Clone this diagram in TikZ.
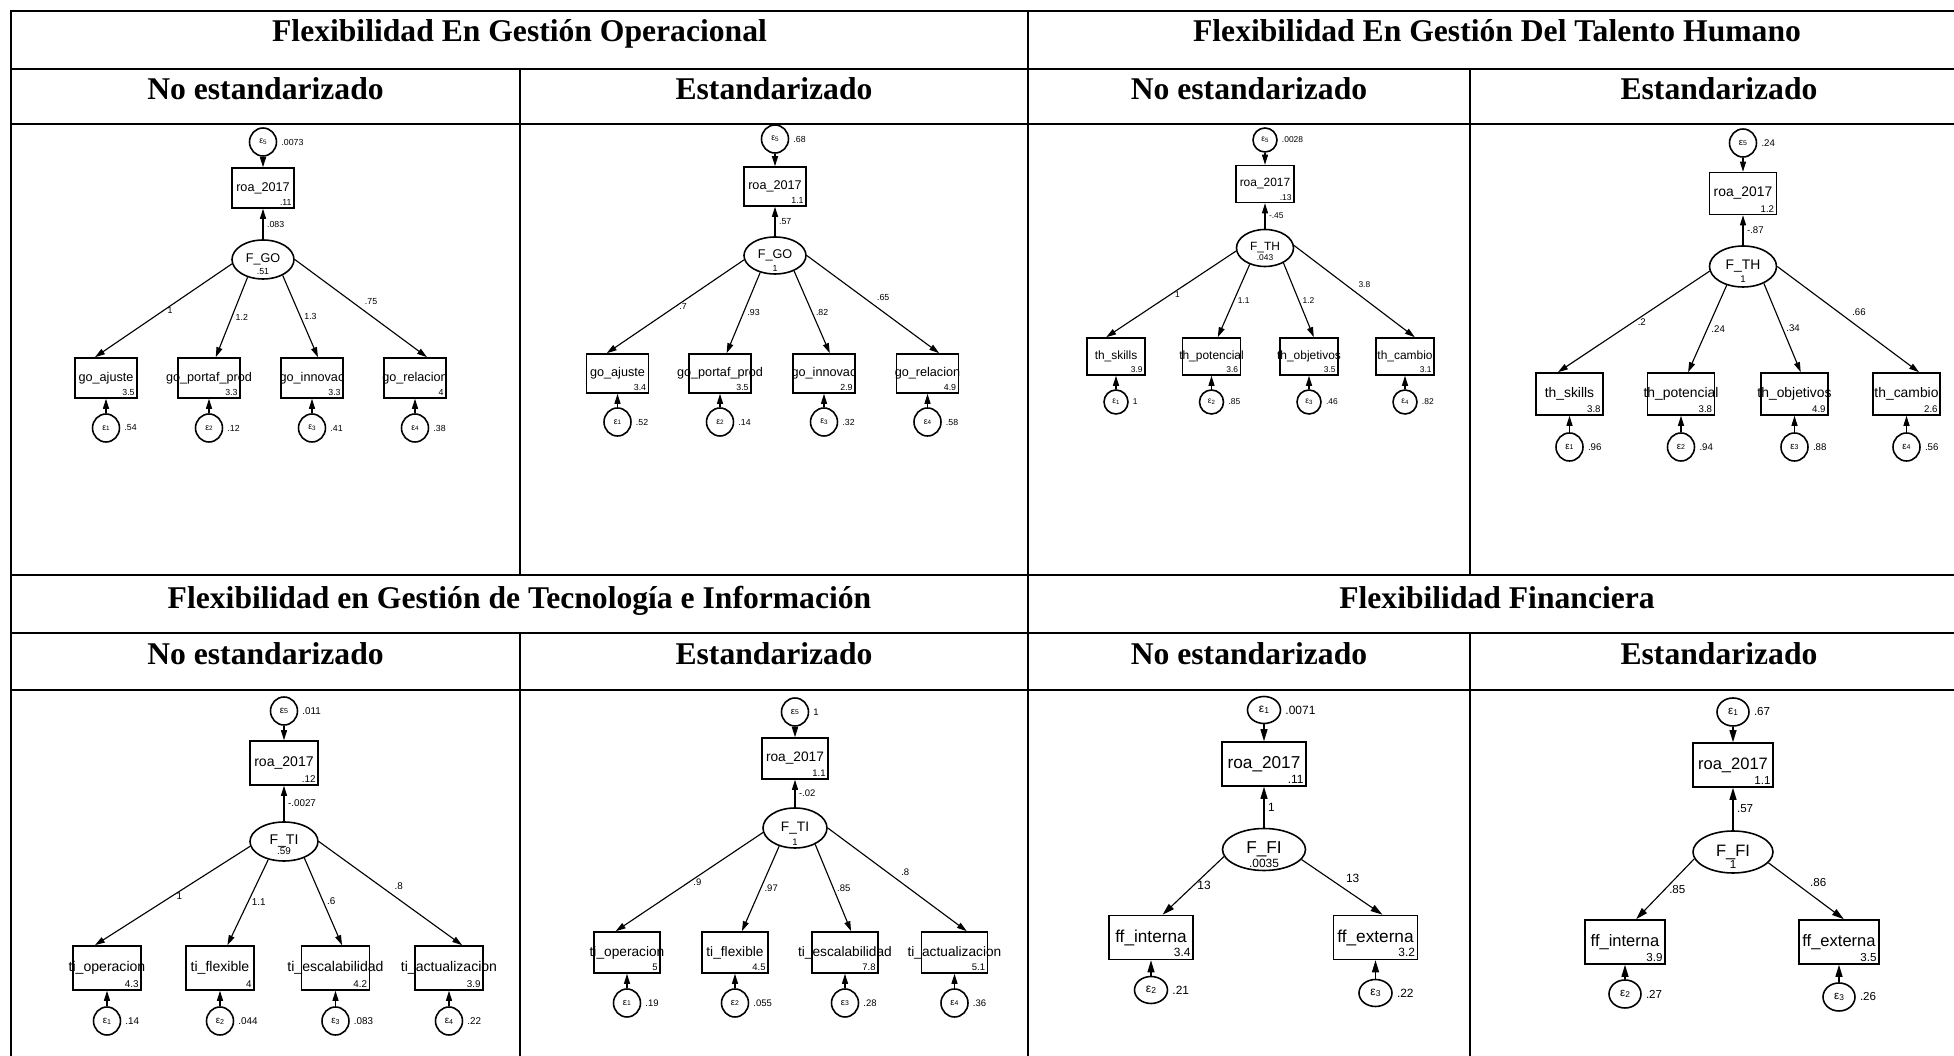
\documentclass[tikz,border=0pt]{standalone}
\usepackage{fontspec}
\setmainfont{Liberation Serif}
\newfontfamily\diag{Liberation Sans}
\usetikzlibrary{shapes.geometric,arrows.meta}
\newcommand{\epsi}[1]{ε\raisebox{-0.15ex}{\scalebox{0.72}{#1}}}

\begin{document}
\begin{tikzpicture}[x=0.1mm,y=-0.1mm,
    nm/.style={font=\diag\fontsize{3.6}{4}\selectfont, inner sep=0pt},
    num/.style={font=\diag\fontsize{2.5}{3}\selectfont, inner sep=0.35mm},
    val/.style={num, anchor=south east, inner sep=0.25mm},
    obs/.style={draw, rectangle, line width=0.45pt, inner sep=0pt},
    lat/.style={draw, ellipse, line width=0.45pt, inner sep=0pt},
    err/.style={num, draw, ellipse, line width=0.45pt, inner sep=0pt, minimum width=2.7mm, minimum height=2.8mm},
    arr/.style={line width=0.32pt, -{Triangle[length=1mm,width=0.6mm]}},
    head/.style={font=\fontsize{9}{10}\selectfont\bfseries, anchor=base},
    rule/.style={line width=0.6pt},
    thinrule/.style={line width=0.3pt}]
    \useasboundingbox (0,0) rectangle (1954,1056);

    % Table rules
    \draw[rule] (11,1056) -- (11,11) -- (1954,11);
    \draw[rule] (11,69) -- (1954,69);
    \draw[rule] (11,575) -- (1954,575);
    \draw[rule] (11,633) -- (1954,633);
    \draw[rule] (1028,11) -- (1028,1056);
    \draw[rule] (520,69) -- (520,575) (520,633) -- (520,1056);
    \draw[rule] (1470,69) -- (1470,575) (1470,633) -- (1470,1056);
    % rules under the subheaders, thin where the figures lie on them
    \draw[rule] (11,124) -- (62,124) (458,124) -- (573,124) (973,124) -- (1080,124) (1457,124) -- (1523,124);
    \draw[thinrule] (62,124) -- (458,124) (573,124) -- (973,124) (1080,124) -- (1457,124) (1523,124) -- (1954,124);
    \draw[rule] (11,690) -- (62,690) (507,690) -- (573,690) (1013,690) -- (1100,690) (1437,690) -- (1573,690) (1900,690) -- (1954,690);
    \draw[thinrule] (62,690) -- (507,690) (573,690) -- (1013,690) (1100,690) -- (1437,690) (1573,690) -- (1900,690);

    % Headers
    \node[head] (tgo) at (519.5,42) {Flexibilidad En Gestión Operacional};
    \node[head] (tth) at (1497,42) {Flexibilidad En Gestión Del Talento Humano};
    \node[head] (tti) at (519.5,609) {Flexibilidad en Gestión de Tecnología e Información};
    \node[head] (tff) at (1497,609) {Flexibilidad Financiera};
    \node[head] (sgoN) at (265.5,100) {No estandarizado};
    \node[head] (sgoE) at (774,100) {Estandarizado};
    \node[head] (sthN) at (1249,100) {No estandarizado};
    \node[head] (sthE) at (1719,100) {Estandarizado};
    \node[head] (stiN) at (265.5,665) {No estandarizado};
    \node[head] (stiE) at (774,665) {Estandarizado};
    \node[head] (sffN) at (1249,665) {No estandarizado};
    \node[head] (sffE) at (1719,665) {Estandarizado};

    % F_GO, no estandarizado
    \begin{scope}[obs/.append style={minimum width=6.2mm, minimum height=4mm},
        lat/.append style={minimum width=6.2mm, minimum height=3.9mm}]
        \node[err, label={[num]east:.0073}] (goNe5) at (263,142) {\epsi{5}};
        \node[obs, label={[nm]center:roa\_2017}, label={[val]south east:.11}] (goNroa) at (263,188) {};
        \node[lat, label={[nm]center:F\_GO}, label={[num,yshift=-1.25mm]center:.51}] (goNlat) at (263,259.5) {};
        \node[obs, label={[nm]center:go\_ajuste}, label={[val]south east:3.5}] (goN1) at (106,378) {};
        \node[obs, label={[nm]center:go\_portaf\_prod}, label={[val]south east:3.3}] (goN2) at (209,378) {};
        \node[obs, label={[nm]center:go\_innovac}, label={[val]south east:3.3}] (goN3) at (312,378) {};
        \node[obs, label={[nm]center:go\_relacion}, label={[val]south east:4}] (goN4) at (415,378) {};
        \node[err, label={[num]east:.54}] (goNe1) at (106,428) {\epsi{1}};
        \node[err, label={[num]east:.12}] (goNe2) at (209,428) {\epsi{2}};
        \node[err, label={[num]east:.41}] (goNe3) at (312,428) {\epsi{3}};
        \node[err, label={[num]east:.38}] (goNe4) at (415,428) {\epsi{4}};
        \draw[arr] (goNe5) -- (goNroa);
        \draw[arr] (goNlat) -- (goNroa) node[num, midway, right] {.083};
        \draw[arr] (goNlat.188) -- (goN1.118) node[num, midway, right] {1};
        \draw[arr] (goNlat.229) -- (goN2.72) node[num, midway, right] {1.2};
        \draw[arr] (goNlat.321) -- (goN3.74) node[num, midway, right] {1.3};
        \draw[arr] (goNlat.0) -- (goN4.60) node[num, midway, above right] {.75};
        \draw[arr] (goNe1) -- (goN1);
        \draw[arr] (goNe2) -- (goN2);
        \draw[arr] (goNe3) -- (goN3);
        \draw[arr] (goNe4) -- (goN4);
    \end{scope}

    % F_GO, estandarizado
    \begin{scope}[obs/.append style={minimum width=6.2mm, minimum height=3.9mm},
        lat/.append style={minimum width=6.2mm, minimum height=3.7mm}]
        \node[err, label={[num]east:.68}] (goEe5) at (775,139) {\epsi{5}};
        \node[obs, label={[nm]center:roa\_2017}, label={[val]south east:1.1}] (goEroa) at (775,186.5) {};
        \node[lat, label={[nm]center:F\_GO}, label={[num,yshift=-1.25mm]center:1}] (goElat) at (775,255.5) {};
        \node[obs, label={[nm]center:go\_ajuste}, label={[val]south east:3.4}] (goE1) at (617.5,373.5) {};
        \node[obs, label={[nm]center:go\_portaf\_prod}, label={[val]south east:3.5}] (goE2) at (720,373.5) {};
        \node[obs, label={[nm]center:go\_innovac}, label={[val]south east:2.9}] (goE3) at (824,373.5) {};
        \node[obs, label={[nm]center:go\_relacion}, label={[val]south east:4.9}] (goE4) at (927.5,373.5) {};
        \node[err, label={[num]east:.52}] (goEe1) at (617.5,422) {\epsi{1}};
        \node[err, label={[num]east:.14}] (goEe2) at (720,422) {\epsi{2}};
        \node[err, label={[num]east:.32}] (goEe3) at (824,422) {\epsi{3}};
        \node[err, label={[num]east:.58}] (goEe4) at (927.5,422) {\epsi{4}};
        \draw[arr] (goEe5) -- (goEroa);
        \draw[arr] (goElat) -- (goEroa) node[num, midway, right] {.57};
        \draw[arr] (goElat.188) -- (goE1.118) node[num, midway, right] {.7};
        \draw[arr] (goElat.229) -- (goE2.72) node[num, midway, right] {.93};
        \draw[arr] (goElat.321) -- (goE3.74) node[num, midway, right] {.82};
        \draw[arr] (goElat.0) -- (goE4.60) node[num, midway, above right] {.65};
        \draw[arr] (goEe1) -- (goE1);
        \draw[arr] (goEe2) -- (goE2);
        \draw[arr] (goEe3) -- (goE3);
        \draw[arr] (goEe4) -- (goE4);
    \end{scope}

    % F_TH, no estandarizado
    \begin{scope}[nm/.append style={font=\diag\fontsize{3.4}{4}\selectfont},
        num/.append style={font=\diag\fontsize{2.4}{3}\selectfont},
        obs/.append style={minimum width=5.8mm, minimum height=3.7mm},
        lat/.append style={minimum width=5.7mm, minimum height=3.7mm},
        err/.append style={minimum width=2.4mm, minimum height=2.4mm}]
        \node[err, label={[num]east:.0028}] (thNe5) at (1265,140) {\epsi{5}};
        \node[obs, label={[nm]center:roa\_2017}, label={[val]south east:.13}] (thNroa) at (1265,184) {};
        \node[lat, label={[nm]center:F\_TH}, label={[num,yshift=-1mm]center:.043}] (thNlat) at (1265,248) {};
        \node[obs, label={[nm]center:th\_skills}, label={[val]south east:3.9}] (thN1) at (1116,356.5) {};
        \node[obs, label={[nm]center:th\_potencial}, label={[val]south east:3.6}] (thN2) at (1211.5,356.5) {};
        \node[obs, label={[nm]center:th\_objetivos}, label={[val]south east:3.5}] (thN3) at (1309,356.5) {};
        \node[obs, label={[nm]center:th\_cambio}, label={[val]south east:3.1}] (thN4) at (1405,356.5) {};
        \node[err, label={[num]east:1}] (thNe1) at (1116,402) {\epsi{1}};
        \node[err, label={[num]east:.85}] (thNe2) at (1211.5,402) {\epsi{2}};
        \node[err, label={[num]east:.46}] (thNe3) at (1309,402) {\epsi{3}};
        \node[err, label={[num]east:.82}] (thNe4) at (1405,402) {\epsi{4}};
        \draw[arr] (thNe5) -- (thNroa);
        \draw[arr] (thNlat) -- (thNroa) node[num, midway, right] {-.45};
        \draw[arr] (thNlat.186) -- (thN1.117) node[num, midway, right] {1};
        \draw[arr] (thNlat.227) -- (thN2.72) node[num, midway, right] {1.1};
        \draw[arr] (thNlat.321) -- (thN3.76) node[num, midway, right] {1.2};
        \draw[arr] (thNlat.5) -- (thN4.63) node[num, midway, above right] {3.8};
        \draw[arr] (thNe1) -- (thN1);
        \draw[arr] (thNe2) -- (thN2);
        \draw[arr] (thNe3) -- (thN3);
        \draw[arr] (thNe4) -- (thN4);
    \end{scope}

    % F_TH, estandarizado
    \begin{scope}[nm/.append style={font=\diag\fontsize{3.95}{4.5}\selectfont},
        num/.append style={font=\diag\fontsize{2.75}{3.2}\selectfont},
        obs/.append style={minimum width=6.7mm, minimum height=4.2mm},
        lat/.append style={minimum width=6.7mm, minimum height=4.1mm}]
        \node[err, label={[num]east:.24}] (thEe5) at (1743,143) {\epsi{5}};
        \node[obs, label={[nm]center:roa\_2017}, label={[val]south east:1.2}] (thEroa) at (1743,193.5) {};
        \node[lat, label={[nm]center:F\_TH}, label={[num,yshift=-1.25mm]center:1}] (thElat) at (1743,266.5) {};
        \node[obs, label={[nm]center:th\_skills}, label={[val]south east:3.8}] (thE1) at (1569.5,394) {};
        \node[obs, label={[nm]center:th\_potencial}, label={[val]south east:3.8}] (thE2) at (1681,394) {};
        \node[obs, label={[nm]center:th\_objetivos}, label={[val]south east:4.9}] (thE3) at (1794.5,394) {};
        \node[obs, label={[nm]center:th\_cambio}, label={[val]south east:2.6}] (thE4) at (1906.5,394) {};
        \node[err, label={[num]east:.96}] (thEe1) at (1569.5,447) {\epsi{1}};
        \node[err, label={[num]east:.94}] (thEe2) at (1681,447) {\epsi{2}};
        \node[err, label={[num]east:.88}] (thEe3) at (1794.5,447) {\epsi{3}};
        \node[err, label={[num]east:.56}] (thEe4) at (1906.5,447) {\epsi{4}};
        \draw[arr] (thEe5) -- (thEroa);
        \draw[arr] (thElat) -- (thEroa) node[num, midway, right] {-.87};
        \draw[arr] (thElat.188) -- (thE1.118) node[num, midway, right] {.2};
        \draw[arr] (thElat.229) -- (thE2.72) node[num, midway, right] {.24};
        \draw[arr] (thElat.321) -- (thE3.74) node[num, midway, right] {.34};
        \draw[arr] (thElat.0) -- (thE4.60) node[num, midway, above right] {.66};
        \draw[arr] (thEe1) -- (thE1);
        \draw[arr] (thEe2) -- (thE2);
        \draw[arr] (thEe3) -- (thE3);
        \draw[arr] (thEe4) -- (thE4);
    \end{scope}

    % F_TI, no estandarizado
    \begin{scope}[nm/.append style={font=\diag\fontsize{4}{4.5}\selectfont},
        num/.append style={font=\diag\fontsize{2.8}{3.2}\selectfont},
        obs/.append style={minimum width=6.8mm, minimum height=4.4mm},
        lat/.append style={minimum width=6.8mm, minimum height=3.9mm}]
        \node[err, label={[num]east:.011}] (tiNe5) at (284,711) {\epsi{5}};
        \node[obs, label={[nm]center:roa\_2017}, label={[val]south east:.12}] (tiNroa) at (284,763) {};
        \node[lat, label={[nm]center:F\_TI}, label={[num,yshift=-1mm]center:.59}] (tiNlat) at (284,841.5) {};
        \node[obs, label={[nm]center:ti\_operacion}, label={[val]south east:4.3}] (tiN1) at (107,968) {};
        \node[obs, label={[nm]center:ti\_flexible}, label={[val]south east:4}] (tiN2) at (220,968) {};
        \node[obs, label={[nm]center:ti\_escalabilidad}, label={[val]south east:4.2}] (tiN3) at (335.5,968) {};
        \node[obs, label={[nm]center:ti\_actualizacion}, label={[val]south east:3.9}] (tiN4) at (449,968) {};
        \node[err, label={[num]east:.14}] (tiNe1) at (107,1021) {\epsi{1}};
        \node[err, label={[num]east:.044}] (tiNe2) at (220,1021) {\epsi{2}};
        \node[err, label={[num]east:.083}] (tiNe3) at (335.5,1021) {\epsi{3}};
        \node[err, label={[num]east:.22}] (tiNe4) at (449,1021) {\epsi{4}};
        \draw[arr] (tiNe5) -- (tiNroa);
        \draw[arr] (tiNlat) -- (tiNroa) node[num, midway, right] {-.0027};
        \draw[arr] (tiNlat.188) -- (tiN1.118) node[num, midway, right] {1};
        \draw[arr] (tiNlat.229) -- (tiN2.72) node[num, midway, right] {1.1};
        \draw[arr] (tiNlat.321) -- (tiN3.74) node[num, midway, right] {.6};
        \draw[arr] (tiNlat.0) -- (tiN4.60) node[num, midway, above right] {.8};
        \draw[arr] (tiNe1) -- (tiN1);
        \draw[arr] (tiNe2) -- (tiN2);
        \draw[arr] (tiNe3) -- (tiN3);
        \draw[arr] (tiNe4) -- (tiN4);
    \end{scope}

    % F_TI, estandarizado
    \begin{scope}[nm/.append style={font=\diag\fontsize{3.9}{4.5}\selectfont},
        num/.append style={font=\diag\fontsize{2.7}{3.2}\selectfont},
        obs/.append style={minimum width=6.6mm, minimum height=4.1mm},
        lat/.append style={minimum width=6.4mm, minimum height=4mm}]
        \node[err, label={[num]east:1}] (tiEe5) at (795,712) {\epsi{5}};
        \node[obs, label={[nm]center:roa\_2017}, label={[val]south east:1.1}] (tiEroa) at (795,758.5) {};
        \node[lat, label={[nm]center:F\_TI}, label={[num,yshift=-1.4mm]center:1}] (tiElat) at (795,828) {};
        \node[obs, label={[nm]center:ti\_operacion}, label={[val]south east:5}] (tiE1) at (627,952.5) {};
        \node[obs, label={[nm]center:ti\_flexible}, label={[val]south east:4.5}] (tiE2) at (735,952.5) {};
        \node[obs, label={[nm]center:ti\_escalabilidad}, label={[val]south east:7.8}] (tiE3) at (845,952.5) {};
        \node[obs, label={[nm]center:ti\_actualizacion}, label={[val]south east:5.1}] (tiE4) at (954.5,952.5) {};
        \node[err, label={[num]east:.19}] (tiEe1) at (627,1003) {\epsi{1}};
        \node[err, label={[num]east:.055}] (tiEe2) at (735,1003) {\epsi{2}};
        \node[err, label={[num]east:.28}] (tiEe3) at (845,1003) {\epsi{3}};
        \node[err, label={[num]east:.36}] (tiEe4) at (954.5,1003) {\epsi{4}};
        \draw[arr] (tiEe5) -- (tiEroa);
        \draw[arr] (tiElat) -- (tiEroa) node[num, midway, right] {-.02};
        \draw[arr] (tiElat.188) -- (tiE1.118) node[num, midway, right] {.9};
        \draw[arr] (tiElat.229) -- (tiE2.72) node[num, midway, right] {.97};
        \draw[arr] (tiElat.321) -- (tiE3.74) node[num, midway, right] {.85};
        \draw[arr] (tiElat.0) -- (tiE4.60) node[num, midway, above right] {.8};
        \draw[arr] (tiEe1) -- (tiE1);
        \draw[arr] (tiEe2) -- (tiE2);
        \draw[arr] (tiEe3) -- (tiE3);
        \draw[arr] (tiEe4) -- (tiE4);
    \end{scope}

    % F_FI, no estandarizado
    \begin{scope}[nm/.append style={font=\diag\fontsize{4.9}{5.5}\selectfont},
        num/.append style={font=\diag\fontsize{3.4}{4}\selectfont},
        obs/.append style={minimum width=8.4mm, minimum height=4.4mm},
        lat/.append style={minimum width=8.3mm, minimum height=4.2mm},
        err/.append style={minimum width=3.3mm, minimum height=2.7mm},
        arr/.append style={-{Triangle[length=1.2mm,width=0.7mm]}}]
        \node[err, label={[num]east:.0071}] (ffNe1) at (1264,710) {\epsi{1}};
        \node[obs, label={[nm]center:roa\_2017}, label={[val]south east:.11}] (ffNroa) at (1264,764) {};
        \node[lat, label={[nm]center:F\_FI}, label={[num,yshift=-1.35mm]center:.0035}] (ffNlat) at (1264,849.5) {};
        \node[obs, label={[nm]center:ff\_interna}, label={[val]south east:3.4}] (ffN1) at (1151,937.5) {};
        \node[obs, label={[nm]center:ff\_externa}, label={[val]south east:3.2}] (ffN2) at (1375.5,937.5) {};
        \node[err, label={[num]east:.21}] (ffNe2) at (1151,990) {\epsi{2}};
        \node[err, label={[num]east:.22}] (ffNe3) at (1375.5,993) {\epsi{3}};
        \draw[arr] (ffNe1) -- (ffNroa);
        \draw[arr] (ffNlat) -- (ffNroa) node[num, midway, right] {1};
        \draw[arr] (ffNlat.190) -- (ffN1.63) node[num, midway, right] {13};
        \draw[arr] (ffNlat.345) -- (ffN2.73) node[num, midway, above right] {13};
        \draw[arr] (ffNe2) -- (ffN1);
        \draw[arr] (ffNe3) -- (ffN2);
    \end{scope}

    % F_FI, estandarizado
    \begin{scope}[nm/.append style={font=\diag\fontsize{4.7}{5.3}\selectfont},
        num/.append style={font=\diag\fontsize{3.3}{4}\selectfont},
        obs/.append style={minimum width=8mm, minimum height=4.4mm},
        lat/.append style={minimum width=8mm, minimum height=4.2mm},
        err/.append style={minimum width=3.2mm, minimum height=2.8mm},
        arr/.append style={-{Triangle[length=1.2mm,width=0.7mm]}}]
        \node[err, label={[num]east:.67}] (ffEe1) at (1733,712) {\epsi{1}};
        \node[obs, label={[nm]center:roa\_2017}, label={[val]south east:1.1}] (ffEroa) at (1733,765) {};
        \node[lat, label={[nm]center:F\_FI}, label={[num,yshift=-1.3mm]center:1}] (ffElat) at (1733,852) {};
        \node[obs, label={[nm]center:ff\_interna}, label={[val]south east:3.9}] (ffE1) at (1625,942) {};
        \node[obs, label={[nm]center:ff\_externa}, label={[val]south east:3.5}] (ffE2) at (1839,942) {};
        \node[err, label={[num]east:.27}] (ffEe2) at (1625,994) {\epsi{2}};
        \node[err, label={[num]east:.26}] (ffEe3) at (1839,997) {\epsi{3}};
        \draw[arr] (ffEe1) -- (ffEroa);
        \draw[arr] (ffElat) -- (ffEroa) node[num, midway, right] {.57};
        \draw[arr] (ffElat.190) -- (ffE1.64) node[num, midway, right] {.85};
        \draw[arr] (ffElat.343) -- (ffE2.78) node[num, midway, above right] {.86};
        \draw[arr] (ffEe2) -- (ffE1);
        \draw[arr] (ffEe3) -- (ffE2);
    \end{scope}
\end{tikzpicture}
\end{document}
